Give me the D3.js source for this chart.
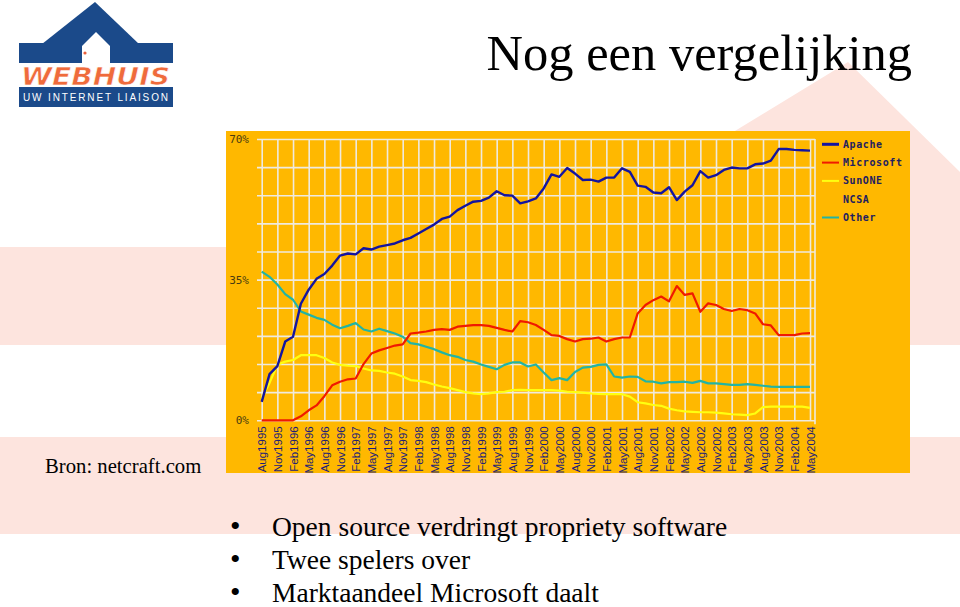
<!DOCTYPE html>
<html>
<head>
<meta charset="utf-8">
<script src="https://cdn.jsdelivr.net/npm/d3@7"></script>
<style>
  body { margin: 0; background: #fff; }
  svg { display: block; }
</style>
</head>
<body>
<svg id="slide" width="960" height="607"></svg>
<script>
// quarter labels on the x axis (Aug 1995 .. May 2004)
const quarterLabels = [
  "Aug1995", "Nov1995", "Feb1996", "May1996", "Aug1996", "Nov1996",
  "Feb1997", "May1997", "Aug1997", "Nov1997", "Feb1998", "May1998",
  "Aug1998", "Nov1998", "Feb1999", "May1999", "Aug1999", "Nov1999",
  "Feb2000", "May2000", "Aug2000", "Nov2000", "Feb2001", "May2001",
  "Aug2001", "Nov2001", "Feb2002", "May2002", "Aug2002", "Nov2002",
  "Feb2003", "May2003", "Aug2003", "Nov2003", "Feb2004", "May2004"
];

// samples every 1.5 months, counted from Aug 1995
const sampleMonths = d3.range(0, 106, 1.5);

// market share in %
const apache = [
  4.6, 11.5, 13.5, 19.6, 20.8, 29.0, 32.5, 35.2, 36.4, 38.5, 41.0, 41.5, 41.3, 42.8, 42.5, 43.2, 43.6, 44.0,
  44.8, 45.4, 46.5, 47.6, 48.7, 50.1, 50.7, 52.3, 53.4, 54.4, 54.6, 55.4, 57.0, 56.0, 55.9, 54.0, 54.5, 55.2,
  57.7, 61.2, 60.6, 62.8, 61.4, 59.8, 59.9, 59.4, 60.4, 60.4, 62.7, 61.8, 58.4, 58.1, 56.7, 56.5, 58.0, 54.8,
  56.9, 58.5, 62.0, 60.4, 61.0, 62.3, 62.9, 62.7, 62.7, 63.7, 63.9, 64.6, 67.5, 67.5, 67.3, 67.2, 67.1
];
const microsoft = [
  0, 0, 0, 0, 0, 1.0, 2.5, 3.7, 6.0, 8.7, 9.6, 10.2, 10.4, 14.0, 16.6, 17.4, 18.0, 18.6,
  18.9, 21.6, 21.8, 22.1, 22.5, 22.7, 22.5, 23.3, 23.5, 23.7, 23.7, 23.5, 23.0, 22.5, 22.1, 24.7, 24.4, 23.7,
  22.5, 21.2, 21.0, 20.2, 19.6, 20.2, 20.3, 20.6, 19.6, 20.2, 20.6, 20.6, 26.6, 28.7, 29.9, 30.8, 29.6, 33.4,
  31.2, 31.6, 27.0, 29.1, 28.7, 27.7, 27.2, 27.7, 27.4, 26.6, 23.9, 23.6, 21.2, 21.2, 21.2, 21.6, 21.7
];
const sunone = [
  5.5, 9.3, 13.8, 14.6, 15.0, 16.2, 16.2, 16.2, 15.5, 14.4, 13.8, 13.6, 13.5, 12.9, 12.4, 12.3, 11.9, 11.6,
  10.9, 10.0, 9.8, 9.5, 8.9, 8.4, 8.0, 7.5, 7.0, 6.7, 6.5, 6.7, 7.0, 7.1, 7.5, 7.6, 7.5, 7.5,
  7.5, 7.5, 7.4, 7.1, 7.0, 6.9, 6.7, 6.6, 6.5, 6.5, 6.5, 5.9, 4.5, 4.2, 3.8, 3.6, 2.9, 2.5,
  2.2, 2.1, 2.0, 2.0, 1.9, 1.7, 1.5, 1.4, 1.3, 1.7, 3.3, 3.4, 3.4, 3.4, 3.4, 3.4, 3.1
];
const other = [
  37.0, 35.7, 33.8, 31.4, 30.0, 27.1, 26.3, 25.5, 25.0, 23.8, 22.9, 23.5, 24.2, 22.6, 22.1, 22.8, 22.2, 21.6,
  20.8, 19.2, 18.9, 18.3, 17.7, 16.9, 16.2, 15.8, 15.0, 14.6, 13.9, 13.3, 12.7, 13.8, 14.4, 14.4, 13.4, 13.9,
  11.9, 10.0, 10.5, 10.0, 12.0, 13.1, 13.3, 13.8, 13.9, 10.9, 10.6, 10.9, 10.8, 9.7, 9.6, 9.2, 9.5, 9.5,
  9.6, 9.3, 9.8, 9.2, 9.2, 9.0, 8.8, 8.8, 9.0, 8.8, 8.6, 8.4, 8.3, 8.3, 8.3, 8.3, 8.3
];

const legendNames = ["Apache", "Microsoft", "SunONE", "NCSA", "Other"];
const bullets = [
  "Open source verdringt propriety software",
  "Twee spelers over",
  "Marktaandeel Microsoft daalt"
];

const pink = "#fde4de";
const navy = "#1b4a8a";
const orange = "#ffb800";
const colors = {
  Apache: "#1414a0",
  Microsoft: "#f01a00",
  SunONE: "#ffff10",
  NCSA: orange,
  Other: "#22b4a4"
};

const svg = d3.select("#slide");

// pink backdrop shapes
svg.append("rect").attr("x", 0).attr("y", 247).attr("width", 960).attr("height", 98).attr("fill", pink);
svg.append("polygon").attr("points", "520,262 848,62 960,172 960,345 520,345").attr("fill", pink);
svg.append("rect").attr("x", 0).attr("y", 437).attr("width", 960).attr("height", 97).attr("fill", pink);

// logo
const logo = svg.append("g");
logo.append("polygon").attr("points", "42,44 95,2 139,44").attr("fill", navy);
logo.append("rect").attr("x", 19).attr("y", 43).attr("width", 154).attr("height", 20).attr("fill", navy);
logo.append("polygon").attr("points", "82,63.5 82,46 96,32 110,46 110,63.5").attr("fill", "#fff");
logo.append("circle").attr("cx", 85).attr("cy", 53).attr("r", 1.6).attr("fill", "#e8603c");
logo.append("text")
  .attr("x", 21).attr("y", 85)
  .attr("textLength", 149).attr("lengthAdjust", "spacingAndGlyphs")
  .style("font-family", "DejaVu Sans").style("font-weight", "bold").style("font-style", "italic")
  .style("font-size", "24px").attr("fill", "#ef6b3c")
  .attr("stroke", "#fff").attr("stroke-width", 0.6)
  .text("WEBHUIS");
logo.append("rect").attr("x", 19).attr("y", 87).attr("width", 154).attr("height", 20).attr("fill", navy);
logo.append("text")
  .attr("x", 23).attr("y", 101)
  .attr("textLength", 145).attr("lengthAdjust", "spacing")
  .style("font-family", "Liberation Sans").style("font-size", "10px").attr("fill", "#fff")
  .text("UW INTERNET LIAISON");

// title
svg.append("text")
  .attr("x", 912).attr("y", 70).attr("text-anchor", "end")
  .style("font-family", "Liberation Serif").style("font-size", "50.5px").attr("fill", "#000")
  .text("Nog een vergelijking");

// netcraft chart panel
const chart = svg.append("g");
chart.append("rect").attr("x", 226).attr("y", 131).attr("width", 684).attr("height", 342).attr("fill", orange);

const plot = { left: 257, right: 815, top: 139, bottom: 420.3 };
const x = d3.scaleLinear().domain([0, 105]).range([261.7, 810]);
const y = d3.scaleLinear().domain([0, 70]).range([plot.bottom, plot.top]);
const gridColor = "#efeadf";

const xAxis = chart.append("g")
  .attr("transform", `translate(0,${plot.bottom})`)
  .call(d3.axisBottom(x)
    .tickValues(d3.range(0, 106, 3))
    .tickFormat((d, i) => quarterLabels[i])
    .tickSize(-(plot.bottom - plot.top)));
xAxis.select(".domain").remove();
xAxis.selectAll(".tick line").attr("stroke", gridColor).attr("stroke-width", 1.6);
xAxis.selectAll(".tick text")
  .attr("x", -6).attr("y", 0).attr("dy", "0.35em")
  .attr("transform", "rotate(-90)")
  .style("text-anchor", "end")
  .style("font-family", "Liberation Sans").style("font-size", "11.5px")
  .attr("fill", "#1c1c78");

const yAxis = chart.append("g")
  .attr("transform", `translate(${plot.left},0)`)
  .call(d3.axisLeft(y)
    .tickValues(d3.range(0, 71, 7))
    .tickFormat(d => (d % 35 === 0 ? d + "%" : ""))
    .tickSize(-(plot.right - plot.left))
    .tickPadding(8));
yAxis.select(".domain").remove();
yAxis.selectAll(".tick line").attr("stroke", gridColor).attr("stroke-width", 1.6);
yAxis.selectAll(".tick text")
  .style("font-family", "DejaVu Sans Mono").style("font-size", "11px")
  .attr("fill", "#4a3c10");

// right frame of the plot
chart.append("line")
  .attr("x1", plot.right).attr("x2", plot.right)
  .attr("y1", plot.top).attr("y2", plot.bottom + 4)
  .attr("stroke", gridColor).attr("stroke-width", 1.6);

const line = d3.line()
  .x((d, i) => x(sampleMonths[i]))
  .y(d => y(d));

const series = [
  { name: "Other", values: other, width: 2.2 },
  { name: "SunONE", values: sunone, width: 2.2 },
  { name: "Microsoft", values: microsoft, width: 2.2 },
  { name: "Apache", values: apache, width: 2.4 }
];

chart.selectAll("path.series")
  .data(series)
  .enter()
  .append("path")
  .attr("class", "series")
  .attr("d", d => line(d.values))
  .attr("fill", "none")
  .attr("stroke", d => colors[d.name])
  .attr("stroke-width", d => d.width)
  .attr("stroke-linejoin", "round");

// legend
const legend = chart.selectAll("g.legend")
  .data(legendNames)
  .enter()
  .append("g")
  .attr("class", "legend")
  .attr("transform", (d, i) => `translate(822,${144.3 + i * 18.3})`);
legend.append("line")
  .attr("x1", 0).attr("x2", 17)
  .attr("stroke", d => colors[d])
  .attr("stroke-width", (d, i) => (i === 0 ? 3 : 2));
legend.append("text")
  .attr("x", 21).attr("dy", "0.35em")
  .style("font-family", "DejaVu Sans Mono").style("font-size", "10px")
  .style("font-weight", "bold")
  .style("letter-spacing", "0.6px")
  .attr("fill", "#1e2060")
  .text(d => d);

// source note
svg.append("text")
  .attr("x", 45).attr("y", 473)
  .style("font-family", "Liberation Serif").style("font-size", "20.7px")
  .text("Bron: netcraft.com");

// bullet list
const items = svg.selectAll("g.bullet")
  .data(bullets)
  .enter()
  .append("g")
  .attr("class", "bullet")
  .attr("transform", (d, i) => `translate(0,${536 + i * 33})`);
items.append("text")
  .attr("x", 230)
  .style("font-family", "Liberation Serif").style("font-size", "30px")
  .text("\u2022");
items.append("text")
  .attr("x", 272)
  .style("font-family", "Liberation Serif").style("font-size", "27.5px")
  .text(d => d);
</script>
</body>
</html>
